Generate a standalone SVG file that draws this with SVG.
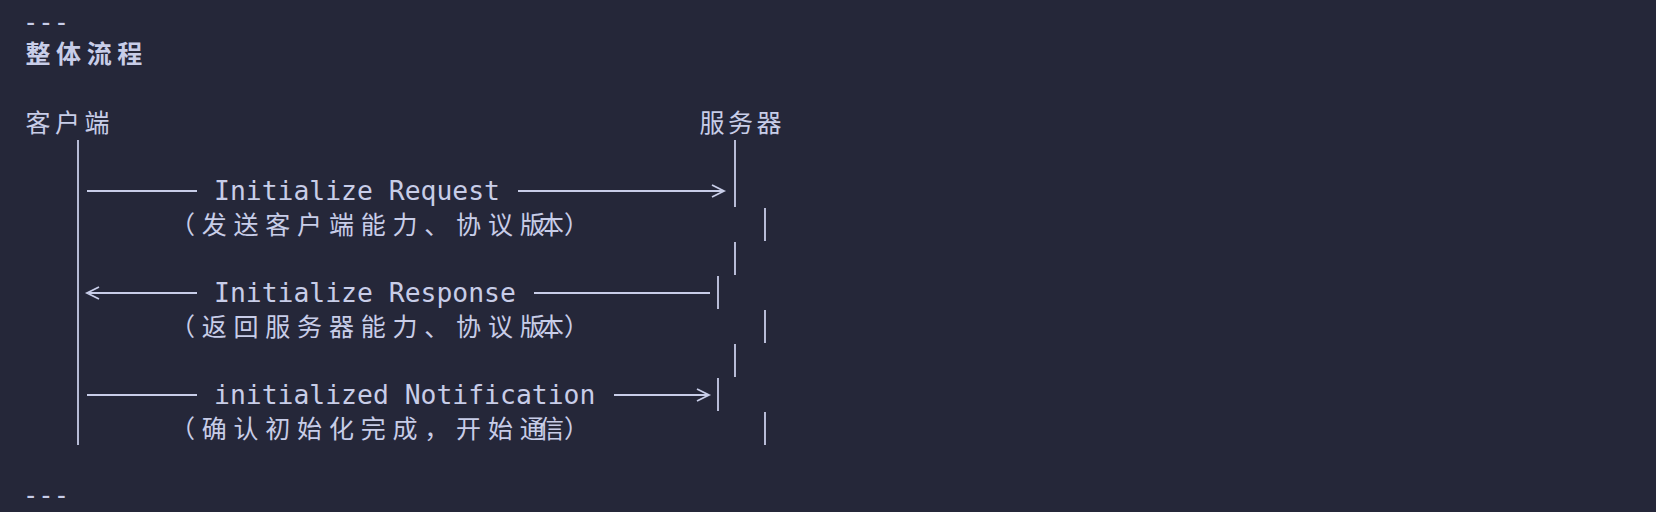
<svg xmlns="http://www.w3.org/2000/svg" width="1656" height="512" viewBox="0 0 1656 512">
<style>
.m{font-family:"DejaVu Sans Mono","Liberation Mono",monospace;font-size:26.4px;fill:#c8cde8}
.c{font-family:"Noto Sans CJK SC","Noto Sans CJK JP",sans-serif;font-size:25px;fill:#c8cde8;text-anchor:middle}
.b{font-weight:bold}
.l{stroke:#c8cde8;stroke-width:1.8;fill:none}
</style>
<rect width="1656" height="512" fill="#252739"/>
<text class="m" x="23" y="31" textLength="46" lengthAdjust="spacingAndGlyphs">---</text>
<text class="c b" x="38 68.6 99.2 129.8" y="63">整体流程</text>
<g id="client"><text class="c" x="38 67.5 97" y="132">客户端</text></g>
<g id="server"><text class="c" x="712 740.5 769" y="132">服务器</text></g>
<g id="connectors" class="l">
<path d="M78 140V445"/>
<path d="M735 140V207M765 208V241M735 242V275M718 276V309M765 310V343M735 344V377M718 378V411M765 412V445"/>
<path d="M87 191H197M518 191H724M712 185L724 191L712 197"/>
<path d="M89 293H197M534 293H710M99 287L87 293L99 299"/>
<path d="M87 395H197M614 395H709M697 389L709 395L697 401"/>
</g>
<text class="m" x="214" y="200">Initialize Request</text>
<text class="m" x="214" y="302">Initialize Response</text>
<text class="m" x="214" y="404">initialized Notification</text>
<text class="c" x="182.4 214.2 246 277.8 309.6 341.4 373.2 405 436.8 468.6 500.4 532.2 564" y="234">（发送客户端能力、协议版本）</text>
<text class="c" x="182.4 214.2 246 277.8 309.6 341.4 373.2 405 436.8 468.6 500.4 532.2 564" y="336">（返回服务器能力、协议版本）</text>
<text class="c" x="182.4 214.2 246 277.8 309.6 341.4 373.2 405 436.8 468.6 500.4 532.2 564" y="438">（确认初始化完成，开始通信）</text>
<text class="m" x="23" y="504" textLength="46" lengthAdjust="spacingAndGlyphs">---</text>
</svg>
